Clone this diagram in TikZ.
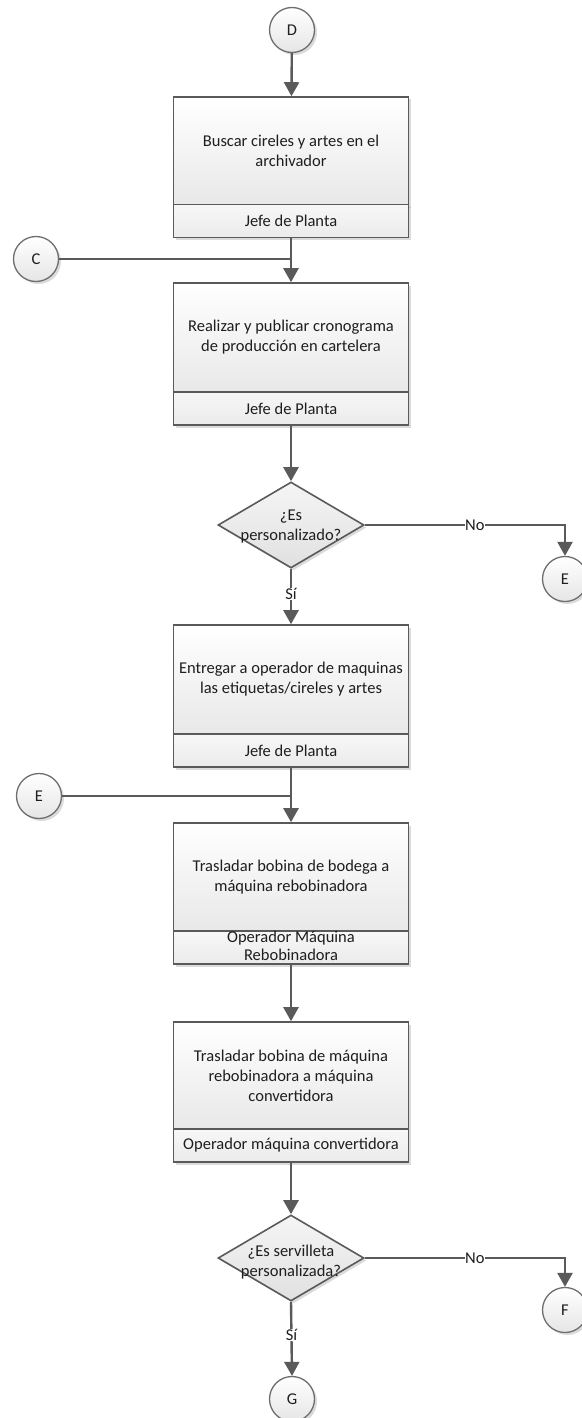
\documentclass[tikz,border=0pt]{standalone}
\usepackage{fontspec}
\setmainfont{Carlito}
\usetikzlibrary{shapes.geometric,shadows,arrows.meta}
\definecolor{edge}{HTML}{5A5A5A}
\definecolor{ring}{HTML}{6E6E6E}
\definecolor{ink}{HTML}{1E1E1E}
\begin{document}
\begin{tikzpicture}[x=1pt,y=-1pt,
  font=\fontsize{16.5}{20}\selectfont, text=ink,
  boxshadow/.style={drop shadow={shadow xshift=2.5pt,shadow yshift=-2.5pt,opacity=0.35,fill=black!40}},
  stepbox/.style={rectangle, draw=edge, line width=1.6pt, minimum width=235pt,
    top color=white, bottom color=black!9, align=center, inner sep=2pt, boxshadow},
  rolebox/.style={rectangle, draw=edge, line width=1.6pt, minimum width=235pt,
    minimum height=33pt, top color=black!3, bottom color=black!8, align=center, inner sep=0pt, boxshadow},
  decision/.style={diamond, draw=edge, line width=1.6pt, minimum width=146pt, minimum height=86pt,
    inner sep=0pt, top color=black!4, bottom color=black!12, boxshadow},
  connector/.style={circle, draw=ring, line width=1.3pt, minimum size=45pt, inner sep=0pt,
    top color=white, bottom color=black!10, boxshadow},
  flow/.style={draw=edge, line width=2.4pt, -{Triangle[length=14pt,width=15pt]}},
  line/.style={draw=edge, line width=2.4pt},
  lbl/.style={fill=white, inner sep=0.5pt}
]
\useasboundingbox (0,0) rectangle (581,1418);

% off-page connectors
\node[connector] (D)  at (292,30)   {D};
\node[connector] (C)  at (36,259)   {C};
\node[connector] (E1) at (565,579)  {E};
\node[connector] (E2) at (39,796)   {E};
\node[connector] (F)  at (565,1310) {F};
\node[connector] (G)  at (292,1399) {G};

% process steps: task on top, responsible role below
\node[stepbox, minimum height=108pt] (b1) at (291,151) {Buscar cireles y artes en el\\archivador};
\node[rolebox] (b1r) at (291,221) {Jefe de Planta};

\node[stepbox, minimum height=109pt] (b2) at (291,337.5) {Realizar y publicar cronograma\\de producción en cartelera};
\node[rolebox] (b2r) at (291,408.5) {Jefe de Planta};

\node[stepbox, minimum height=109pt] (b3) at (291,679.5) {Entregar a operador de maquinas\\las etiquetas/cireles y artes};
\node[rolebox] (b3r) at (291,750.5) {Jefe de Planta};

\node[stepbox, minimum height=108pt] (b4) at (291,877) {Trasladar bobina de bodega a\\máquina rebobinadora};
\node[rolebox] (b4r) at (291,947.5) {\raisebox{-8pt}{\smash{\begin{tabular}{@{}c@{}}Operador Máquina\\[-2pt]Rebobinadora\end{tabular}}}};

\node[stepbox, minimum height=107pt] (b5) at (291,1075.5) {Trasladar bobina de máquina\\rebobinadora a máquina\\convertidora};
\node[rolebox] (b5r) at (291,1145.5) {Operador máquina convertidora};

% decisions
\node[decision] (d1) at (291,525) {};
\node[align=center, inner sep=0pt] (d1t) at (291,527) {¿Es\\personalizado?};
\node[decision] (d2) at (291,1258) {};
\node[align=center, inner sep=0pt] (d2t) at (291,1262) {¿Es servilleta\\personalizada?};

% flow
\draw[flow] (D) -- (b1);
\draw[line] (C) -- (C -| b1r.south) coordinate (jc);
\draw[flow] (b1r.south) -- (b2.north);
\draw[flow] (b2r.south) -- (d1.north);
\draw[flow] (d1.east) -- (d1.east -| E1) node[lbl, pos=0.55] {No} -- (E1.north);
\draw[flow] (d1.south) -- (b3.north) node[lbl, pos=0.45] {Sí};
\draw[line] (E2) -- (E2 -| b3r.south) coordinate (je);
\draw[flow] (b3r.south) -- (b4.north);
\draw[flow] (b4r.south) -- (b5.north);
\draw[flow] (b5r.south) -- (d2.north);
\draw[flow] (d2.east) -- (d2.east -| F) node[lbl, pos=0.55] {No} -- (F.north);
\draw[flow] (d2.south) -- (G.north) node[lbl, pos=0.45] {Sí};
\end{tikzpicture}
\end{document}
